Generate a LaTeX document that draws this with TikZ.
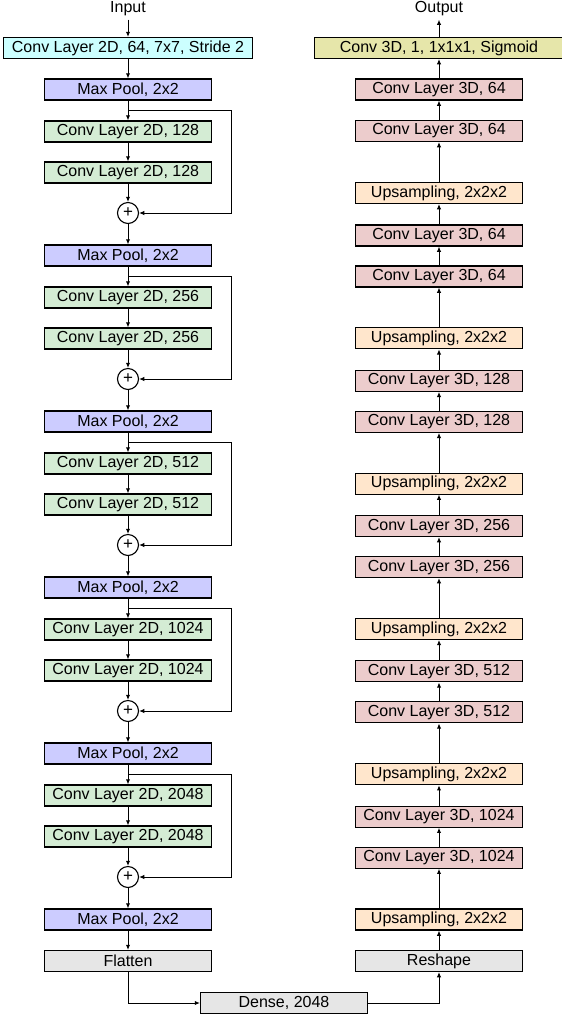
\documentclass[tikz,border=0pt]{standalone}
\usepackage{fontspec}
\setmainfont{Liberation Sans}
\usetikzlibrary{arrows.meta}
\definecolor{cinC}{RGB}{204,255,255}
\definecolor{poolC}{RGB}{204,204,255}
\definecolor{convC}{RGB}{212,236,212}
\definecolor{dconvC}{RGB}{236,204,204}
\definecolor{upC}{RGB}{255,230,204}
\definecolor{sigC}{RGB}{230,230,170}
\definecolor{grayC}{RGB}{230,230,230}
\tikzset{
  layer/.style={draw, line width=0.55pt, minimum width=83.5pt, minimum height=10.5pt, inner sep=0pt, font=\fontsize{8}{9.6}\selectfont},
  wide/.style={layer, minimum width=124.5pt},
  sumnode/.style={draw, circle, line width=0.55pt, minimum size=10.5pt, inner sep=0pt, font=\fontsize{8.5}{9.6}\selectfont},
  lbl/.style={inner sep=1.5pt, font=\fontsize{8}{9.6}\selectfont},
  conn/.style={line width=0.5pt, -{Latex[length=2.6pt,width=2.2pt]}},
  plain/.style={line width=0.5pt}
}
\begin{document}
\begin{tikzpicture}[x=0.5pt,y=-0.5pt]
\useasboundingbox (0,0) rectangle (562,1019);
% ---------------- encoder ----------------
\node[lbl] (in) at (128,9) {Input};
\node[wide, fill=cinC] (c0) at (128,48) {Conv Layer 2D, 64, 7x7, Stride 2};
\draw[conn] (in) -- (c0);
\node[layer, fill=poolC] (mp0) at (128,89.5) {Max Pool, 2x2};
\draw[conn] (c0) -- (mp0);
\foreach \n [count=\j from 1, evaluate=\j as \i using int(\j-1)] in {128,256,512,1024,2048} {
  \pgfmathsetmacro{\ym}{89.5+166*\i}
  \node[layer, fill=convC] (a\i) at (128,\ym+42) {Conv Layer 2D, \n};
  \node[layer, fill=convC] (b\i) at (128,\ym+83) {Conv Layer 2D, \n};
  \node[sumnode] (p\i) at (128,\ym+123.5) {+};
  \node[layer, fill=poolC] (mp\j) at (128,\ym+166) {Max Pool, 2x2};
  \coordinate (br\i) at (128,\ym+21);
  \coordinate (r\i) at (231,\ym+21);
  \draw[conn] (mp\i) -- (a\i);
  \draw[conn] (a\i) -- (b\i);
  \draw[conn] (b\i) -- (p\i);
  \draw[conn] (p\i) -- (mp\j);
  \draw[conn] (br\i) -- (r\i) |- (p\i);
}
\node[layer, fill=grayC] (fl) at (128,961) {Flatten};
\draw[conn] (mp5) -- (fl);
\node[layer, fill=grayC] (dn) at (284,1003) {Dense, 2048};
\draw[conn] (fl) |- (dn);
% ---------------- decoder ----------------
\node[layer, fill=grayC] (rs) at (439,961) {Reshape};
\draw[conn] (dn) -| (rs);
\foreach \k in {0,...,5} {
  \pgfmathsetmacro{\yu}{193+145.3*\k}
  \node[layer, fill=upC] (u\k) at (439,\yu) {Upsampling, 2x2x2};
}
\foreach \n [count=\k from 0] in {64,128,256,512,1024} {
  \pgfmathsetmacro{\yu}{193+145.3*\k}
  \node[layer, fill=dconvC] (d\k) at (439,\yu+42.5) {Conv Layer 3D, \n};
  \node[layer, fill=dconvC] (e\k) at (439,\yu+83.5) {Conv Layer 3D, \n};
}
\draw[conn] (rs) -- (u5);
\foreach \k [evaluate=\k as \kn using int(\k+1)] in {0,...,4} {
  \draw[conn] (u\kn) -- (e\k);
  \draw[conn] (e\k) -- (d\k);
  \draw[conn] (d\k) -- (u\k);
}
\node[layer, fill=dconvC] (t1) at (439,131) {Conv Layer 3D, 64};
\node[layer, fill=dconvC] (t2) at (439,89.5) {Conv Layer 3D, 64};
\node[wide, fill=sigC] (sg) at (439,48) {Conv 3D, 1, 1x1x1, Sigmoid};
\node[lbl] (out) at (439,9) {Output};
\draw[conn] (u0) -- (t1);
\draw[conn] (t1) -- (t2);
\draw[conn] (t2) -- (sg);
\draw[conn] (sg) -- (out);
\end{tikzpicture}
\end{document}
